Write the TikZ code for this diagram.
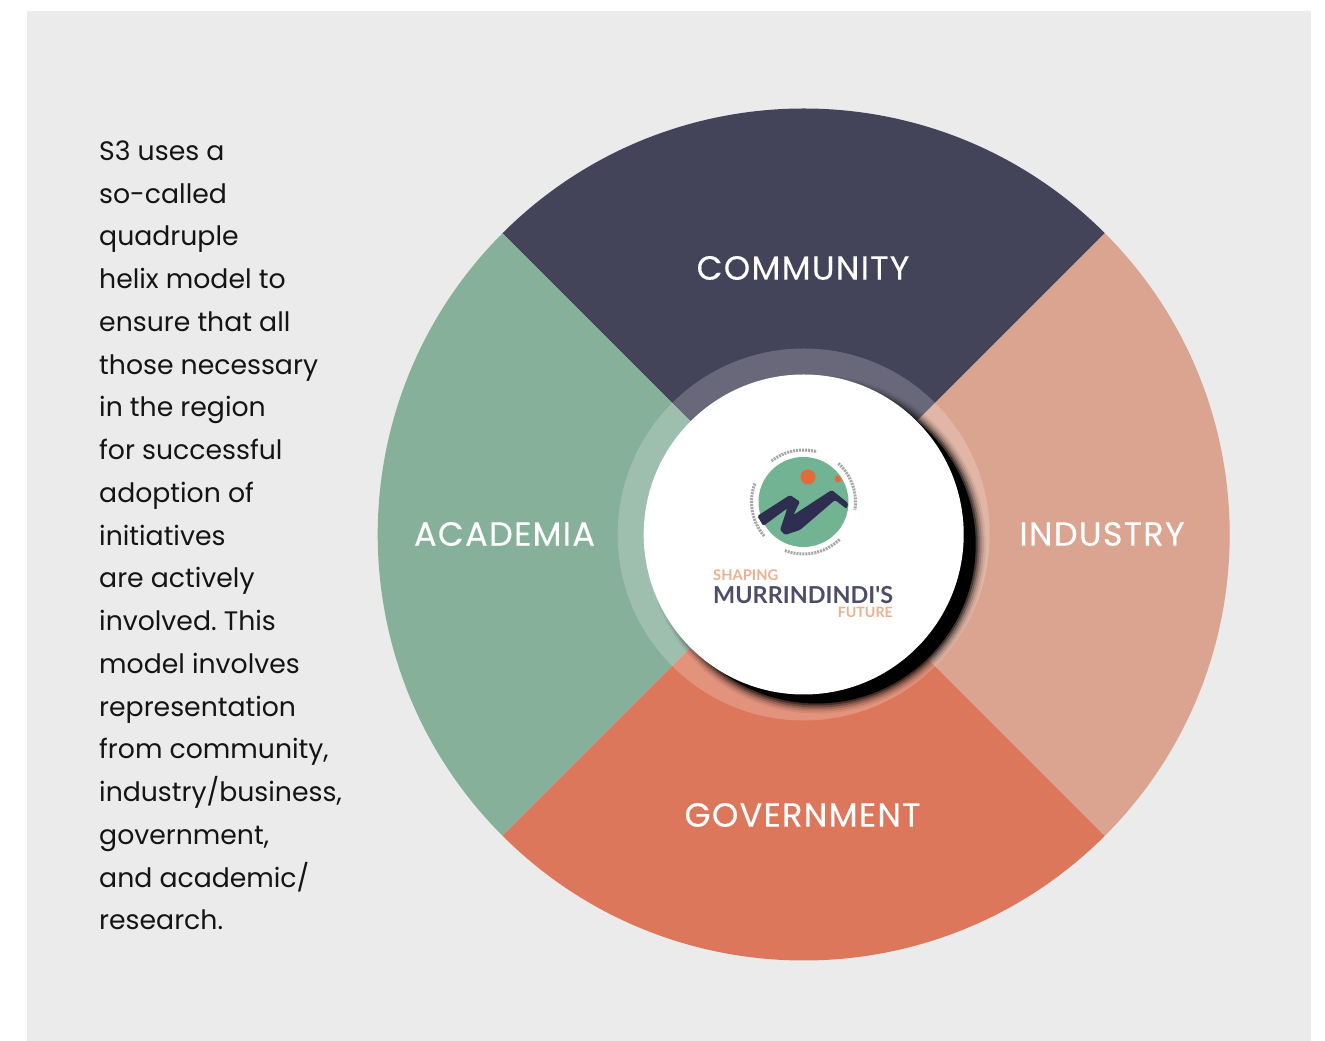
\documentclass[tikz,border=0pt]{standalone}
\usepackage{fontspec}
\usetikzlibrary{calc}
\setmainfont{Poppins}
\newfontfamily\lab[LetterSpace=4,FakeBold=0.25]{Poppins}
\newfontfamily\logofont{Lato}
\definecolor{pagegrey}{HTML}{EBEBEB}
\definecolor{commcol}{HTML}{434359}
\definecolor{induscol}{HTML}{DAA490}
\definecolor{govcol}{HTML}{DC775C}
\definecolor{acadcol}{HTML}{87B09A}
\definecolor{logogreen}{HTML}{72B393}
\definecolor{logodark}{HTML}{2E2E50}
\definecolor{logoorange}{HTML}{E26B3C}
\definecolor{logopeach}{HTML}{EBB08F}
\tikzset{
  seclabel/.style={text=white,font=\lab\fontsize{33.5}{38}\selectfont,inner sep=0pt},
  bodytext/.style={anchor=north west,align=left,inner sep=0pt,text=black!92,font=\fontsize{26.7}{42.75}\selectfont},
  logoarc/.style={draw=gray!70,line width=3pt,dash pattern=on 2pt off 1pt}
}
\begin{document}
\frenchspacing
\begin{tikzpicture}[x=1pt,y=1pt]
\useasboundingbox (0,0) rectangle (1325,1041);
\fill[pagegrey] (27,0) rectangle (1311,1030);
\coordinate (c) at (803.7,506.5);
% wedges
\fill[commcol] (c) -- ++(45:426) arc[start angle=45,end angle=135,radius=426] -- cycle;
\fill[acadcol] (c) -- ++(135:426) arc[start angle=135,end angle=225,radius=426] -- cycle;
\fill[govcol] (c) -- ++(225:426) arc[start angle=225,end angle=315,radius=426] -- cycle;
\fill[induscol] (c) -- ++(315:426) arc[start angle=315,end angle=405,radius=426] -- cycle;
% translucent ring
\fill[white,fill opacity=0.2] (c) circle[radius=186];
% soft shadow
\coordinate (shadowc) at ($(c)+(13,-10)$);
\fill[black,fill opacity=0.06] (shadowc) circle[radius=169];
\fill[black,fill opacity=0.10] (shadowc) circle[radius=167];
\fill[black,fill opacity=0.16] (shadowc) circle[radius=165];
\fill[black,fill opacity=0.25] (shadowc) circle[radius=163];
\fill[black,fill opacity=0.40] (shadowc) circle[radius=161];
\fill[black] (shadowc) circle[radius=159];
% centre disc
\node[circle,fill=white,minimum size=320pt,inner sep=0pt] (hub) at (c) {};
% logo
\fill[logogreen] (803.5,539) circle[radius=45];
\draw[logoarc] (803.5,539) ++(48:52) arc[start angle=48,end angle=-9,radius=52];
\draw[logoarc] (803.5,539) ++(128:52) arc[start angle=128,end angle=75,radius=52];
\draw[logoarc] (803.5,539) ++(221:52) arc[start angle=221,end angle=159,radius=52];
\draw[logoarc] (803.5,539) ++(314:52) arc[start angle=314,end angle=249,radius=52];
\fill[logoorange] (808,564) circle[radius=7.5];
\fill[logoorange] (838,562) circle[radius=3.5];
\fill[logodark,rounded corners=1.5pt]
  (757.3,525) -- (790,546) -- (800,539.3) -- (793.3,526) -- (831.7,551) -- (848.3,537.7) -- (846.7,532)
  -- (835,541) -- (800,511) -- (785,506) -- (780,511) -- (787.3,532.7) -- (763.3,515) -- cycle;
\node[anchor=base west,inner sep=0pt,text=logopeach,font=\logofont\bfseries\fontsize{14.7}{15}\selectfont] (shaping) at (713,460) {SHAPING};
\node[anchor=base west,inner sep=0pt,text=logodark!85,font=\logofont\bfseries\fontsize{23.4}{24}\selectfont] (murr) at (713,437.5) {MURRINDINDI'S};
\node[anchor=base east,inner sep=0pt,text=logopeach,font=\logofont\bfseries\fontsize{14.2}{15}\selectfont] (future) at (893,423) {FUTURE};
% labels
\node[seclabel] (community) at (803,773) {COMMUNITY};
\node[seclabel] (academia) at (504.5,507) {ACADEMIA};
\node[seclabel] (industry) at (1102,507) {INDUSTRY};
\node[seclabel] (government) at (802.5,226) {GOVERNMENT};
% body text
\node[bodytext] (body) at (99,900.6) {S3 uses a\\so-called\\quadruple\\helix model to\\ensure that all\\those necessary\\in the region\\for successful\\adoption of\\initiatives\\are actively\\involved. This\\model involves\\representation\\from community,\\industry/business,\\government,\\and academic/\\research.};
\end{tikzpicture}
\end{document}
